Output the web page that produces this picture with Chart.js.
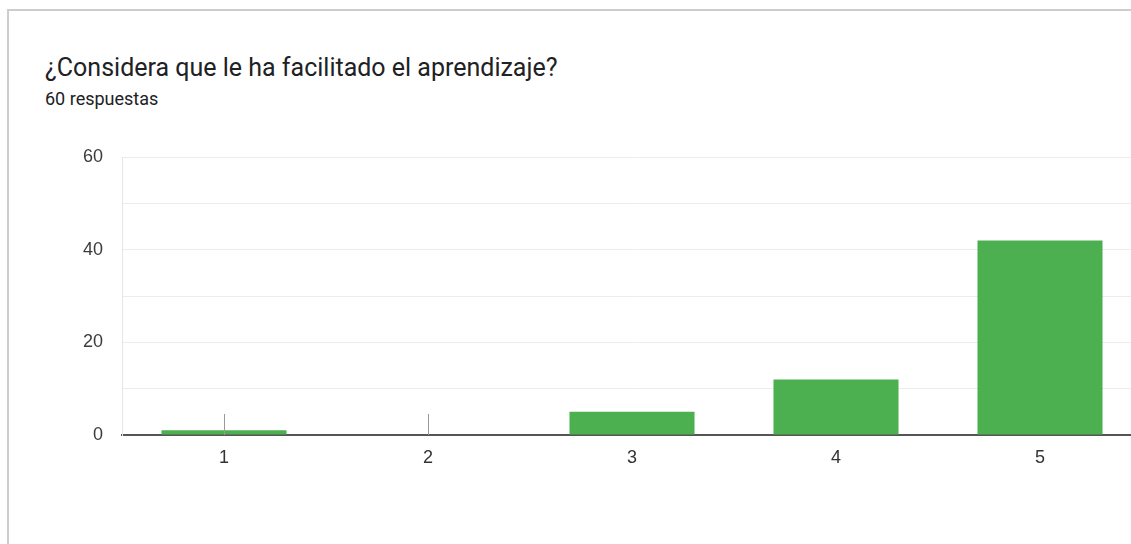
<!DOCTYPE html>
<html>
<head>
<meta charset="utf-8">
<script src="https://cdn.jsdelivr.net/npm/chart.js@4/dist/chart.umd.min.js"></script>
<style>
  html, body { margin: 0; padding: 0; background: #fff; overflow: hidden; width: 1131px; height: 544px; }
  #card {
    position: absolute; left: 7px; top: 9px; width: 1200px; height: 600px;
    border-left: 2px solid #cdcdcd; border-top: 2px solid #cdcdcd;
  }
  #title {
    position: absolute; left: 45px; top: 53px; font-family: Roboto, sans-serif;
    font-size: 25px; color: #202124; white-space: nowrap;
  }
  #subtitle {
    position: absolute; left: 45px; top: 88px; font-family: Roboto, sans-serif;
    font-size: 18px; color: #202124; white-space: nowrap;
  }
  #wrap { position: absolute; left: 0; top: 0; width: 1150px; height: 544px; }
</style>
</head>
<body>
<div id="card"></div>
<div id="title">¿Considera que le ha facilitado el aprendizaje?</div>
<div id="subtitle">60 respuestas</div>
<div id="wrap"><canvas id="chart"></canvas></div>
<script>
const categories = ["1", "2", "3", "4", "5"];
const counts = [1, 0, 5, 12, 42];
const yTickLabels = [0, 20, 40, 60];

// little grey marks google draws over near-empty bars
const smallMarks = {
  id: "smallMarks",
  afterDatasetsDraw(chart) {
    const { ctx, scales } = chart;
    ctx.save();
    ctx.strokeStyle = "#999";
    ctx.lineWidth = 1;
    counts.forEach((v, i) => {
      if (v > 1) return;
      const x = Math.round(scales.x.getPixelForValue(i)) + 0.5;
      const y0 = scales.y.getPixelForValue(0);
      ctx.beginPath();
      ctx.moveTo(x, y0);
      ctx.lineTo(x, y0 - 21);
      ctx.stroke();
    });
    ctx.restore();
  }
};

const data = {
  labels: categories,
  datasets: [
    {
      data: counts,
      backgroundColor: "#4caf50",
      borderWidth: 0,
      barPercentage: 0.613,
      categoryPercentage: 1.0,
    },
  ],
};

const config = {
  type: "bar",
  data: data,
  options: {
    responsive: true,
    maintainAspectRatio: false,
    animation: false,
    layout: { padding: { left: 0, right: 8, top: 157, bottom: 0 } },
    plugins: { legend: { display: false }, tooltip: { enabled: false } },
    scales: {
      x: {
        grid: { display: false, drawTicks: false },
        border: { color: "#555", width: 2 },
        ticks: { color: "#333", padding: 12, font: { family: "'Liberation Sans', Arial", size: 18 } },
        afterFit: (s) => { s.height = 109; },
      },
      y: {
        min: 0,
        max: 60,
        grid: { color: "#ececec", lineWidth: 1, drawTicks: false },
        border: { color: "#e6e6e6", width: 1 },
        ticks: {
          stepSize: 10,
          color: "#3c3c3c",
          padding: 19,
          font: { family: "'Liberation Sans', Arial", size: 18 },
          callback: (v) => (yTickLabels.includes(v) ? v : ""),
        },
        afterFit: (s) => { s.width = 122; },
      },
    },
  },
  plugins: [smallMarks],
};

const myChart = new Chart(document.getElementById("chart"), config);
</script>
</body>
</html>
